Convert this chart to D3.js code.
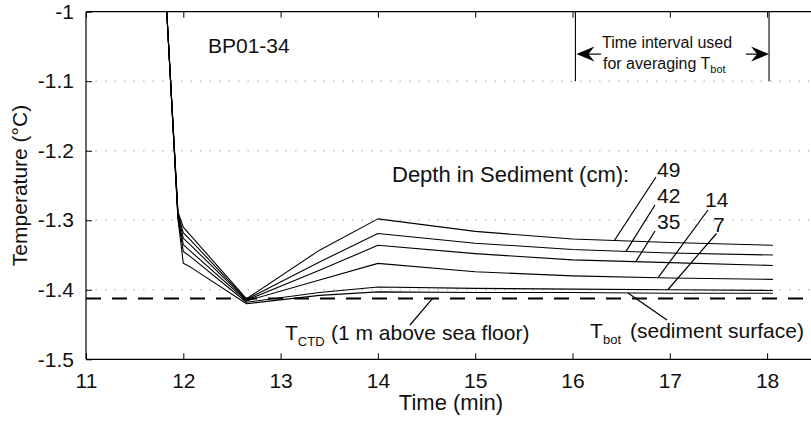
<!DOCTYPE html>
<html>
<head>
<meta charset="utf-8">
<script src="https://cdn.jsdelivr.net/npm/d3@7"></script>
<style>
  html, body { margin: 0; padding: 0; background: #fff; }
  svg { display: block; font-family: "Liberation Sans", Arial, Helvetica, sans-serif; }
</style>
</head>
<body>
<svg id="chart" width="811" height="424"></svg>
<script>
// ---------- data ----------
const times = [11.83, 11.945, 12.0, 12.07, 12.65, 13.4, 14.0, 15.0, 16.0, 17.0, 18.06];
const depths = ["49", "42", "35", "14", "7", "0"];
const series49 = [-1.0, -1.288, -1.310, -1.321, -1.413, -1.343, -1.298, -1.316, -1.327, -1.332, -1.336];
const series42 = [-1.0, -1.290, -1.318, -1.328, -1.414, -1.360, -1.319, -1.333, -1.342, -1.347, -1.350];
const series35 = [-1.0, -1.292, -1.326, -1.335, -1.415, -1.372, -1.336, -1.348, -1.357, -1.361, -1.365];
const series14 = [-1.0, -1.294, -1.335, -1.344, -1.416, -1.386, -1.362, -1.374, -1.380, -1.383, -1.385];
const series7  = [-1.0, -1.296, -1.345, -1.352, -1.418, -1.404, -1.396, -1.398, -1.399, -1.400, -1.401];
const series0  = [-1.0, -1.298, -1.362, -1.367, -1.420, -1.408, -1.403, -1.404, -1.404, -1.405, -1.405];
const allSeries = [series49, series42, series35, series14, series7, series0];
const tCTD = -1.4127;
const averagingInterval = [16.03, 18.02];
const xTicks = [11, 12, 13, 14, 15, 16, 17, 18];
const yTicks = [-1.5, -1.4, -1.3, -1.2, -1.1, -1];
const gridY = [-1.4, -1.3, -1.2, -1.1];
const depthLabelText = ["49", "42", "35", "14", "7"];
const depthLeaderEnd = [16.43, 16.55, 16.65, 16.88, 16.98];

// ---------- layout ----------
const svg = d3.select("#chart");
const x = d3.scaleLinear().domain([11, 18.5]).range([86, 86 + 7.5 * 97.3]);
const y = d3.scaleLinear().domain([-1.5, -1]).range([359.3, 11.7]);
const FS = 21;
const x0 = x(11), yb = y(-1.5), yt = y(-1), xr = 811;

svg.append("defs").append("clipPath").attr("id", "plotclip")
  .append("rect").attr("x", x0).attr("y", yt).attr("width", xr - x0).attr("height", yb - yt);

// grid (dotted)
svg.append("g").selectAll("line").data(gridY).join("line")
  .attr("x1", x0).attr("x2", xr).attr("y1", d => y(d)).attr("y2", d => y(d))
  .attr("stroke", "#a0a0a0").attr("stroke-width", 1).attr("stroke-dasharray", "1.5,8");

// axes
const xAxisB = d3.axisBottom(x).tickValues(xTicks).tickSize(-6).tickPadding(14).tickFormat(d => String(d));
const xAxisT = d3.axisTop(x).tickValues(xTicks).tickSize(-6).tickFormat("");
const yAxisL = d3.axisLeft(y).tickValues(yTicks).tickSize(-6).tickPadding(12).tickFormat(d => String(d));

function styleAxis(g) {
  g.select(".domain").attr("stroke", "#000").attr("stroke-width", 1.2);
  g.selectAll(".tick line").attr("stroke", "#000").attr("stroke-width", 1);
  g.selectAll(".tick text").attr("font-size", FS).attr("fill", "#111")
   .attr("font-family", "Liberation Sans, Arial, sans-serif");
}
svg.append("g").attr("transform", `translate(0,${yb})`).call(xAxisB).call(styleAxis)
  .call(g => g.select(".domain").attr("d", `M${x0},0H${xr + 10}`));
svg.append("g").attr("transform", `translate(0,${yt})`).call(xAxisT).call(styleAxis)
  .call(g => g.select(".domain").attr("d", `M${x0},0H${xr + 10}`));
svg.append("g").attr("transform", `translate(${x0},0)`).call(yAxisL).call(styleAxis)
  .call(g => g.select(".domain").attr("d", `M0,${yt}V${yb}`));

// T_CTD dashed line
svg.append("line").attr("x1", x0).attr("x2", xr).attr("y1", y(tCTD)).attr("y2", y(tCTD))
  .attr("stroke", "#000").attr("stroke-width", 2).attr("stroke-dasharray", "15,11");

// curves
const line = d3.line().x((d, i) => x(times[i])).y(d => y(d));
svg.append("g").attr("clip-path", "url(#plotclip)").selectAll("path").data(allSeries).join("path")
  .attr("d", d => line(d)).attr("fill", "none").attr("stroke", "#000").attr("stroke-width", 1.1)
  .attr("stroke-linejoin", "round");

function valAt(s, t) {
  for (let i = 0; i < times.length - 1; i++) {
    if (t >= times[i] && t <= times[i + 1]) {
      const f = (t - times[i]) / (times[i + 1] - times[i]);
      return s[i] + f * (s[i + 1] - s[i]);
    }
  }
  return s[s.length - 1];
}

// axis titles
svg.append("text").attr("x", 451).attr("y", 410).attr("text-anchor", "middle")
  .attr("font-size", 22).attr("fill", "#111").text("Time (min)");
svg.append("text").attr("transform", `translate(27,${(yt + yb) / 2}) rotate(-90)`)
  .attr("text-anchor", "middle").attr("font-size", FS).attr("fill", "#111").text("Temperature (°C)");

// station label
svg.append("text").attr("x", 208).attr("y", 53).attr("font-size", FS).attr("fill", "#111").text("BP01-34");

// depth annotation
svg.append("text").attr("x", 392).attr("y", 181.5).attr("font-size", 22).attr("fill", "#111")
  .text("Depth in Sediment (cm):");
const labelPos = [[657, 176.5], [657, 203], [657, 228.5], [705, 207], [713, 231.5]];
const leaderStart = [[656, 177], [655, 205], [655, 231], [708, 210], [716.5, 233.5]];
depthLabelText.forEach((lab, i) => {
  const s = allSeries[i];
  const te = depthLeaderEnd[i];
  svg.append("line").attr("x1", leaderStart[i][0]).attr("y1", leaderStart[i][1])
    .attr("x2", x(te)).attr("y2", y(valAt(s, te)))
    .attr("stroke", "#000").attr("stroke-width", 1.2);
  svg.append("text").attr("x", labelPos[i][0]).attr("y", labelPos[i][1])
    .attr("font-size", FS).attr("fill", "#111").text(lab);
});

// T_CTD label
const tctdText = svg.append("text").attr("x", 285).attr("y", 340).attr("font-size", FS).attr("fill", "#111");
tctdText.append("tspan").text("T");
tctdText.append("tspan").attr("font-size", 13).attr("dy", 6).text("CTD");
tctdText.append("tspan").attr("dy", -6).attr("x", 331).text("(1 m above sea floor)");
svg.append("line").attr("x1", 410).attr("y1", 325).attr("x2", x(14.56)).attr("y2", y(tCTD))
  .attr("stroke", "#000").attr("stroke-width", 1.2);

// T_bot label
const tbotText = svg.append("text").attr("x", 590).attr("y", 337.5).attr("font-size", FS).attr("fill", "#111");
tbotText.append("tspan").text("T");
tbotText.append("tspan").attr("font-size", 13).attr("dy", 6).attr("x", 603).text("bot");
tbotText.append("tspan").attr("dy", -6).attr("x", 630).text("(sediment surface)");
svg.append("line").attr("x1", 667).attr("y1", 320).attr("x2", x(16.57)).attr("y2", y(valAt(series0, 16.57)))
  .attr("stroke", "#000").attr("stroke-width", 1.2);

// averaging interval
const ia = x(averagingInterval[0]), ib = x(averagingInterval[1]);
svg.append("g").selectAll("line").data(averagingInterval).join("line")
  .attr("x1", d => x(d)).attr("x2", d => x(d)).attr("y1", y(-1)).attr("y2", y(-1.1))
  .attr("stroke", "#000").attr("stroke-width", 1.1);
const ay = y(-1.061);
function arrow(tipX, dir, tailX) {
  svg.append("line").attr("x1", tipX + dir * 10).attr("x2", tailX).attr("y1", ay).attr("y2", ay)
    .attr("stroke", "#000").attr("stroke-width", 1.2);
  const L = 18, W = 7.5, notch = 12;
  svg.append("path")
    .attr("d", `M${tipX},${ay} L${tipX + dir * L},${ay - W} L${tipX + dir * notch},${ay} L${tipX + dir * L},${ay + W} Z`)
    .attr("fill", "#000");
}
arrow(ia + 1, 1, 601);
arrow(ib, -1, 746);
svg.append("text").attr("x", 602).attr("y", 48.3).attr("font-size", 16).attr("fill", "#111")
  .text("Time interval used");
const favg = svg.append("text").attr("x", 603).attr("y", 68.5).attr("font-size", 16).attr("fill", "#111");
favg.append("tspan").text("for averaging T");
favg.append("tspan").attr("font-size", 11).attr("dy", 4).text("bot");
</script>
</body>
</html>
